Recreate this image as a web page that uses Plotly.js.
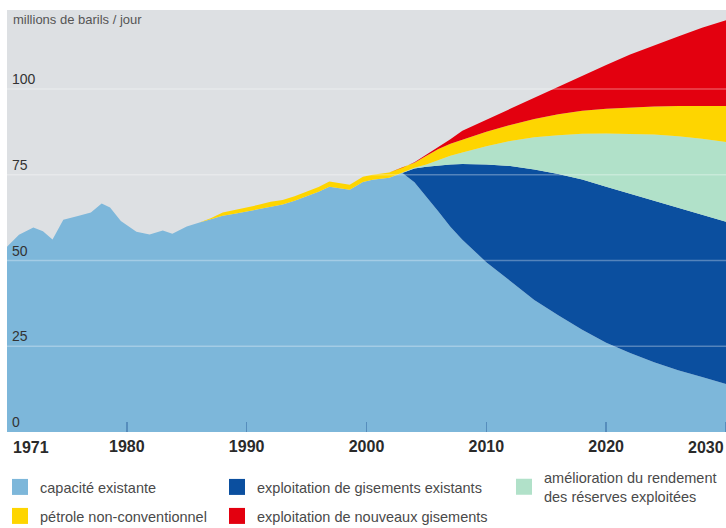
<!DOCTYPE html>
<html>
<head>
<meta charset="utf-8">
<script src="https://cdn.plot.ly/plotly-3.0.1.min.js"></script>
<style>html,body{margin:0;padding:0;background:#fff;}#chart{width:726px;height:528px;}</style>
</head>
<body>
<div id="chart"></div>
<script>
const years = [1970, 1971, 1972.2, 1973, 1973.8, 1974.7, 1976, 1977, 1977.9, 1978.6, 1979.5, 1980.8, 1981.9, 1983, 1983.8, 1985, 1986, 1987, 1988, 1989, 1990, 1991, 1992, 1993, 1994, 1995, 1996, 1996.9, 1997.5, 1998.6, 1999.7, 2000.5, 2001.9, 2003,
  2004, 2005, 2006, 2007, 2008, 2010, 2012, 2014, 2016, 2018, 2020, 2022, 2024, 2026, 2028, 2030];

// millions de barils / jour, layer thickness (stacked)
const capaciteExistante = [54, 57.5, 59.6, 58.5, 56.1, 61.9, 63, 64, 66.6, 65.4, 61.5, 58.4, 57.6, 58.7, 57.8, 59.9, 61, 62, 63, 63.6, 64.3, 65, 65.8, 66.3, 67.4, 68.7, 70, 71.5, 71.2, 70.6, 72.9, 73.5, 74.1, 75.5,
  72.8, 68.7, 64.3, 59.8, 56, 49.5, 44, 38.5, 34, 29.8, 26, 23, 20.3, 18, 16, 14];
const gisementsExistants = [0,0,0,0,0,0,0,0,0,0,0,0,0,0,0,0,0,0,0,0,0,0,0,0,0,0,0,0,0,0,0,0,0,0,
  4.0, 8.6, 13.4, 18.2, 22.1, 28.5, 33.5, 38, 41.2, 43.8, 45.5, 46.5, 47.2, 47.5, 47.5, 47.3];
const ameliorationRendement = [0,0,0,0,0,0,0,0,0,0,0,0,0,0,0,0,0,0,0,0,0,0,0,0,0,0,0,0,0,0,0,0,0,0,
  0.2, 0.7, 1.6, 2.5, 3.4, 5.3, 7.3, 9.4, 11.3, 13.3, 15.5, 17.4, 19.2, 20.7, 22, 23.2];
const petroleNonConventionnel = [0,0,0,0,0,0,0,0,0,0,0,0,0,0,0,0,0,0.3, 1.0, 1.1, 1.2, 1.2, 1.3, 1.3, 1.3, 1.4, 1.4, 1.5, 1.5, 1.5, 1.5, 1.5, 1.5, 1.5,
  1.5, 2.5, 3.2, 3.5, 3.7, 4.2, 4.7, 5.3, 6.1, 6.7, 7.2, 7.7, 8.2, 8.8, 9.5, 10.5];
const nouveauxGisements = [0,0,0,0,0,0,0,0,0,0,0,0,0,0,0,0,0,0,0,0,0,0,0,0,0,0,0,0,0,0,0,0,0,0,
  0.1, 0.3, 0.5, 1.3, 2.6, 3.5, 4.8, 6.4, 8.2, 10.4, 12.8, 15.4, 17.8, 20.3, 22.8, 25];

const seriesNames = ["capacité existante", "exploitation de gisements existants", "amélioration du rendement<br>des réserves exploitées", "pétrole non-conventionnel", "exploitation de nouveaux gisements"];
const tickYears = [1980, 1990, 2000, 2010, 2020];
const tickLabels = ["1980", "1990", "2000", "2010", "2020"];
const tickMarkYears = [1980, 1990, 2000, 2010, 2020, 2030];
const firstYearLabel = "1971";
const lastYearLabel = "2030";
const yTicks = [0, 25, 50, 75, 100];
const gridValues = [25, 50, 75, 100];
const yTitle = "millions de barils / jour";

const colors = ["#7db7da", "#0b4f9f", "#b1e1c9", "#fed500", "#e3000f"];
const values = [capaciteExistante, gisementsExistants, ameliorationRendement, petroleNonConventionnel, nouveauxGisements];
const legendIds = ["legend", "legend2", "legend3", "legend4", "legend5"];

const FONT = "Liberation Sans, Arial, sans-serif";
const XRANGE = [1970, 2030];

// stacked areas (drawn from the arrays)
const areaTraces = values.map((v, i) => ({
  type: "scatter", mode: "lines", x: years, y: v, stackgroup: "one",
  name: seriesNames[i], line: {width: 0, color: colors[i]}, fillcolor: colors[i],
  showlegend: false, hoverinfo: "skip"
}));
// square legend keys, one per series
const keyTraces = seriesNames.map((n, i) => ({
  type: "scatter", mode: "markers", x: [null], y: [null], name: n,
  marker: {symbol: "square", size: 17, color: colors[i]},
  legend: legendIds[i], showlegend: true, hoverinfo: "skip"
}));

const legendStyle = (x, y) => ({
  xref: "container", yref: "container", x: x, y: y, xanchor: "left", yanchor: "middle",
  bgcolor: "rgba(0,0,0,0)", font: {family: FONT, size: 14.5, color: "#4a4a4a"},
  itemwidth: 30, tracegroupgap: 0, itemsizing: "trace"
});

const yearFont = {family: FONT, size: 16, color: "#2a2a2a", weight: "bold"};

const layout = {
  width: 726, height: 528,
  margin: {l: 7, r: 0, t: 10, b: 96, autoexpand: false},
  paper_bgcolor: "#ffffff", plot_bgcolor: "#dde0e3",
  font: {family: FONT},
  xaxis: {
    range: XRANGE, tickvals: tickYears, ticktext: tickLabels, ticks: "",
    showgrid: false, zeroline: false, showline: false, automargin: false,
    ticklabeloverflow: "allow", ticklabelstandoff: 3,
    tickfont: yearFont,
    minor: {tickvals: tickMarkYears, ticks: "inside", ticklen: 10, tickwidth: 1.5, tickcolor: "rgba(40,90,150,0.45)", showgrid: false},
    fixedrange: true
  },
  yaxis: {
    range: [0, 123], tickvals: yTicks, ticks: "", ticklabelposition: "inside top",
    showgrid: false, zeroline: false, showline: false, automargin: false,
    ticklabelstandoff: 2,
    tickfont: {family: FONT, size: 14, color: "#333333"},
    fixedrange: true
  },
  shapes: gridValues.map(g => ({type: "line", xref: "paper", x0: 0, x1: 1, yref: "y", y0: g, y1: g,
    line: {color: "rgba(255,255,255,0.3)", width: 1.5}, layer: "above"})),
  annotations: [
    {text: yTitle, xref: "paper", yref: "paper", x: 0.005, y: 0.977, xanchor: "left", yanchor: "middle", showarrow: false,
     font: {family: FONT, size: 13, color: "#555555"}},
    {text: firstYearLabel, xref: "x", yref: "paper", x: XRANGE[0], xshift: 4, y: 0, yshift: -5, xanchor: "left", yanchor: "top", showarrow: false,
     font: yearFont},
    {text: lastYearLabel, xref: "x", yref: "paper", x: XRANGE[1], y: 0, yshift: -5, xanchor: "right", yanchor: "top", showarrow: false,
     font: yearFont}
  ],
  legend: legendStyle(0, 1 - 487/528),
  legend2: legendStyle(0.2989, 1 - 487/528),
  legend3: legendStyle(0.6942, 1 - 487/528),
  legend4: legendStyle(0, 1 - 516/528),
  legend5: legendStyle(0.2989, 1 - 516/528),
  showlegend: true
};

Plotly.newPlot("chart", areaTraces.concat(keyTraces), layout, {displayModeBar: false, staticPlot: true});
</script>
</body>
</html>
